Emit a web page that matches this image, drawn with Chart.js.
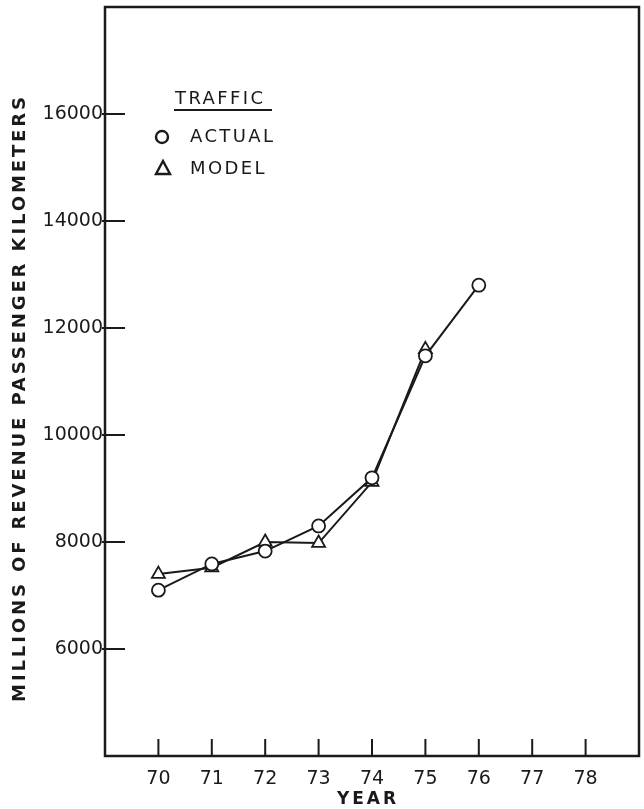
<!DOCTYPE html>
<html>
<head>
<meta charset="utf-8">
<script src="https://cdn.jsdelivr.net/npm/chart.js@4/dist/chart.umd.min.js"></script>
<style>
  html, body { margin: 0; padding: 0; background: #fff; overflow: hidden; }
</style>
</head>
<body>
<canvas id="trafficChart" width="644" height="809"></canvas>
<script>
// values
var actualYears = [70, 71, 72, 73, 74, 75, 76];
var actualTraffic = [7100, 7590, 7830, 8300, 9200, 11480, 12800];
var modelYears = [70, 71, 72, 73, 74, 75];
var modelTraffic = [7400, 7520, 8000, 7980, 9120, 11600];
var yearTicks = [70, 71, 72, 73, 74, 75, 76, 77, 78];
var trafficTicks = [6000, 8000, 10000, 12000, 14000, 16000];

var ink = '#1a1a1a';
var labelFont = 'DejaVu Sans, sans-serif';

function pairs(xs, ys) {
    return xs.map(function (x, i) { return { x: x, y: ys[i] }; });
}

// frame, inward ticks, axis titles and the hand-lettered key
var framePlugin = {
    id: 'frame',
    afterDraw: function (chart) {
        var ctx = chart.ctx;
        var area = chart.chartArea;
        var xs = chart.scales.x, ys = chart.scales.y;
        ctx.save();
        ctx.strokeStyle = ink;
        ctx.lineWidth = 2.5;
        ctx.strokeRect(area.left, area.top, area.right - area.left, area.bottom - area.top);

        ctx.lineWidth = 2;
        ctx.beginPath();
        yearTicks.forEach(function (v) {
            var px = xs.getPixelForValue(v);
            ctx.moveTo(px, area.bottom);
            ctx.lineTo(px, area.bottom - 17);
        });
        trafficTicks.forEach(function (v) {
            var py = ys.getPixelForValue(v);
            ctx.moveTo(area.left - 3, py);
            ctx.lineTo(area.left + 20, py);
        });
        ctx.stroke();

        ctx.fillStyle = ink;
        ctx.textAlign = 'center';
        ctx.textBaseline = 'middle';
        ctx.font = 'bold 17px ' + labelFont;
        if ('letterSpacing' in ctx) ctx.letterSpacing = '3px';
        ctx.fillText('YEAR', 368, 800);

        ctx.save();
        ctx.translate(20, 398);
        ctx.rotate(-Math.PI / 2);
        ctx.font = 'bold 18px ' + labelFont;
        if ('letterSpacing' in ctx) ctx.letterSpacing = '2.9px';
        ctx.fillText('MILLIONS OF REVENUE PASSENGER KILOMETERS', 0, 0);
        ctx.restore();

        // key
        ctx.textAlign = 'left';
        ctx.font = '18px ' + labelFont;
        if ('letterSpacing' in ctx) ctx.letterSpacing = '2.4px';
        ctx.fillText('TRAFFIC', 175, 99);
        ctx.lineWidth = 2;
        ctx.beginPath();
        ctx.moveTo(174, 110);
        ctx.lineTo(272, 110);
        ctx.stroke();
        ctx.fillText('ACTUAL', 190, 137);
        ctx.fillText('MODEL', 190, 169);

        ctx.lineWidth = 2.4;
        ctx.beginPath();
        ctx.arc(162, 137, 6, 0, Math.PI * 2);
        ctx.stroke();
        ctx.beginPath();
        ctx.moveTo(163, 161);
        ctx.lineTo(170, 174);
        ctx.lineTo(156, 174);
        ctx.closePath();
        ctx.stroke();
        ctx.restore();
    }
};

document.addEventListener('DOMContentLoaded', function () {
    var ctx = document.getElementById('trafficChart').getContext('2d');
    var chart = new Chart(ctx, {
        type: 'line',
        data: {
            datasets: [{
                label: 'ACTUAL',
                data: pairs(actualYears, actualTraffic),
                borderColor: ink,
                borderWidth: 2,
                pointStyle: 'circle',
                pointRadius: 6.5,
                pointBorderWidth: 1.8,
                pointBackgroundColor: '#fff',
                pointBorderColor: ink,
                tension: 0
            }, {
                label: 'MODEL',
                data: pairs(modelYears, modelTraffic),
                borderColor: ink,
                borderWidth: 2,
                pointStyle: 'triangle',
                pointRadius: 7.5,
                pointBorderWidth: 1.8,
                pointBackgroundColor: '#fff',
                pointBorderColor: ink,
                tension: 0
            }]
        },
        options: {
            responsive: false,
            animation: false,
            layout: {
                autoPadding: false,
                padding: { top: 7, right: 5, left: 0, bottom: 0 }
            },
            plugins: {
                legend: { display: false },
                tooltip: { enabled: false }
            },
            scales: {
                x: {
                    type: 'linear',
                    min: 69,
                    max: 79,
                    grid: { display: false, drawTicks: false },
                    border: { display: false },
                    afterFit: function (scale) {
                        scale.height = 53;
                        scale.paddingLeft = 0;
                        scale.paddingRight = 0;
                    },
                    ticks: {
                        stepSize: 1,
                        padding: 12,
                        color: ink,
                        font: { family: labelFont, size: 19 },
                        callback: function (v) { return yearTicks.indexOf(v) >= 0 ? String(v) : ''; }
                    }
                },
                y: {
                    min: 4000,
                    max: 18000,
                    grid: { display: false, drawTicks: false },
                    border: { display: false },
                    afterFit: function (scale) {
                        scale.width = 105;
                        scale.paddingTop = 0;
                        scale.paddingBottom = 0;
                    },
                    ticks: {
                        stepSize: 2000,
                        padding: 2,
                        color: ink,
                        font: { family: labelFont, size: 19 },
                        callback: function (v) { return trafficTicks.indexOf(v) >= 0 ? String(v) : ''; }
                    }
                }
            }
        },
        plugins: [framePlugin]
    });
});
</script>
</body>
</html>
